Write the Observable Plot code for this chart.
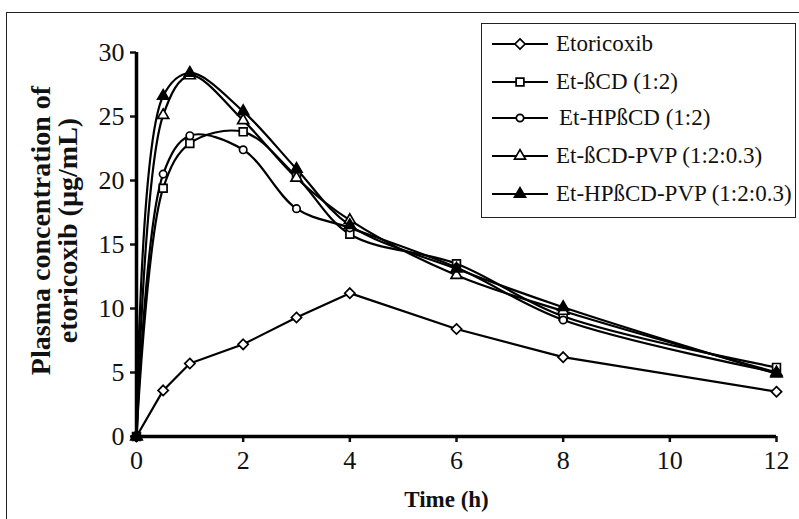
<!DOCTYPE html>
<html><head><meta charset="utf-8">
<script src="https://cdn.jsdelivr.net/npm/d3@7"></script>
<script src="https://cdn.jsdelivr.net/npm/@observablehq/plot@0.6"></script>
<style>
body{margin:0;background:#fff;}
#wrap{position:relative;width:799px;height:519px;overflow:hidden;font-family:"Liberation Serif","Times New Roman",serif;color:#111;}
#frame{position:absolute;left:6px;top:12px;width:900px;height:700px;border-left:1.5px solid #222;border-top:1.5px solid #222;}
#chart{position:absolute;left:0;top:0;}
#legend{position:absolute;left:481px;top:23px;width:313px;height:193px;border:1.5px solid #222;background:#fff;}
.row{position:absolute;left:0;height:30px;display:flex;align-items:center;}
.row svg{margin-left:10px;}
.row span{font-size:23px;margin-left:8px;white-space:nowrap;}
</style></head>
<body><div id="wrap"><div id="frame"></div><div id="chart"></div><div id="legend"></div></div>
<script>
const times = [0, 0.5, 1, 2, 3, 4, 6, 8, 12];
const seriesNames = ["Etoricoxib", "Et-ßCD (1:2)", "Et-HPßCD (1:2)", "Et-ßCD-PVP (1:2:0.3)", "Et-HPßCD-PVP (1:2:0.3)"];
const etoricoxib = [0, 3.6, 5.7, 7.2, 9.3, 11.2, 8.4, 6.2, 3.5];
const etBCD = [0, 19.4, 22.9, 23.8, 20.3, 15.8, 13.5, 9.4, 5.4];
const etHPBCD = [0, 20.5, 23.5, 22.4, 17.8, 16.3, 13.2, 9.1, 5.0];
const etBCDPVP = [0, 25.1, 28.2, 24.7, 20.2, 16.9, 12.6, 9.8, 5.0];
const etHPBCDPVP = [0, 26.6, 28.4, 25.4, 20.9, 16.5, 13.1, 10.1, 4.9];
const xTicks = [0, 2, 4, 6, 8, 10, 12];
const yTicks = [0, 5, 10, 15, 20, 25, 30];
const xTitle = "Time (h)";
const yTitle = "Plasma concentration of\netoricoxib (µg/mL)";

const values = [etoricoxib, etBCD, etHPBCD, etBCDPVP, etHPBCDPVP];
const symbols = ["diamond2", "square", "circle", "triangle", "triangle"];
const fills = ["white", "white", "white", "white", "black"];
const radii = [4.6, 4.4, 3.7, 4.1, 4.1];
const curves = ["linear", "catmull-rom", "catmull-rom", "catmull-rom", "catmull-rom"];

const series = seriesNames.map((name, i) => times.map((t, j) => ({series: name, t, v: values[i][j]})));

const marks = [];
series.forEach((d, i) => {
  marks.push(Plot.line(d, {x: "t", y: "v", stroke: "black", strokeWidth: 2.2, curve: curves[i]}));
});
series.forEach((d, i) => {
  marks.push(Plot.dot(d, {x: "t", y: "v", symbol: symbols[i], r: radii[i], fill: fills[i], stroke: "black", strokeWidth: 1.7}));
});

const chart = Plot.plot({
  width: 799, height: 519,
  marginLeft: 136, marginRight: 23, marginTop: 52, marginBottom: 83,
  style: {fontFamily: '"Liberation Serif","Times New Roman",serif', background: "transparent", color: "#111"},
  x: {domain: [0, 12]},
  y: {domain: [0, 30]},
  marks: [
    Plot.axisX(xTicks, {tickSize: 6, tickPadding: 8, fontSize: 26, strokeWidth: 2.5, label: null}),
    Plot.axisY(yTicks, {tickSize: 6, tickPadding: 6, fontSize: 26, strokeWidth: 2.5, label: null}),
    ...marks,
    Plot.ruleX([0], {y1: 0, y2: 30, stroke: "black", strokeWidth: 3.5}),
    Plot.ruleY([0], {x1: 0, x2: 12, stroke: "black", strokeWidth: 3.5}),
    Plot.text([xTitle], {frameAnchor: "bottom", dy: 70, dx: -10, fontSize: 23, fontWeight: "bold"}),
    Plot.text([yTitle], {frameAnchor: "left", textAnchor: "middle", rotate: -90, dx: -82, dy: -14, fontSize: 28, fontWeight: "bold", lineHeight: 0.97})
  ]
});
document.getElementById("chart").appendChild(chart);

// legend
const legend = document.getElementById("legend");
const rowCenters = [20, 58, 94, 132, 170];
const textOffsets = [0, 0, 3, 0, 0];
seriesNames.forEach((name, i) => {
  const row = document.createElement("div");
  row.className = "row";
  row.style.top = (rowCenters[i] - 15) + "px";
  const svg = d3.create("svg").attr("width", 56).attr("height", 30);
  svg.append("line").attr("x1", 0).attr("x2", 56).attr("y1", 15).attr("y2", 15).attr("stroke", "black").attr("stroke-width", 2);
  const symMap = {diamond2: d3.symbolDiamond2, square: d3.symbolSquare, circle: d3.symbolCircle, triangle: d3.symbolTriangle};
  svg.append("path").attr("transform", "translate(28,15)")
    .attr("d", d3.symbol(symMap[symbols[i]], Math.PI * radii[i] * radii[i])())
    .attr("fill", fills[i]).attr("stroke", "black").attr("stroke-width", 1.7);
  row.appendChild(svg.node());
  const span = document.createElement("span");
  span.textContent = name;
  span.style.marginLeft = (8 + textOffsets[i]) + "px";
  row.appendChild(span);
  legend.appendChild(row);
});
</script>
</body></html>
